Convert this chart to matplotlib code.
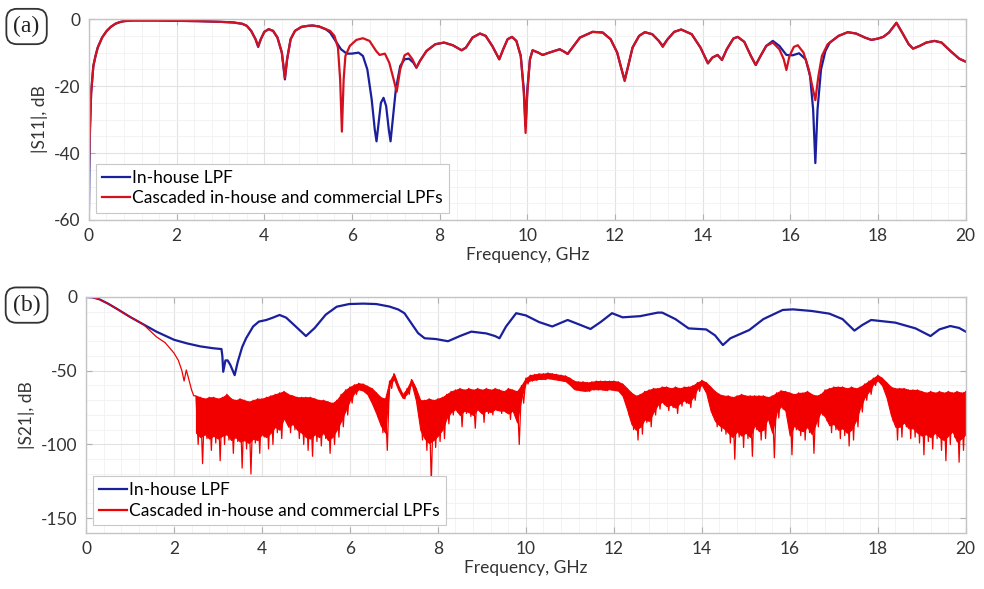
import numpy as np
import matplotlib
matplotlib.use("Agg")
from matplotlib import pyplot as plt
from matplotlib.ticker import MultipleLocator

plt.rcParams['font.family'] = ['Lato', 'DejaVu Sans']
plt.rcParams['font.size'] = 12.5
plt.rcParams['axes.unicode_minus'] = False

# |S11| of the in-house filter (GHz, dB)
s11_blue_f = [0, 0.02, 0.05, 0.1, 0.15, 0.2, 0.25, 0.3, 0.4, 0.5, 0.6, 0.7, 0.8, 1.0, 1.5, 2.0, 2.5,
              3.0, 3.3, 3.5, 3.6, 3.7, 3.8, 3.86, 3.92, 4.0, 4.1, 4.2, 4.3, 4.4, 4.47, 4.52, 4.6,
              4.7, 4.85, 5.0, 5.1, 5.25, 5.4, 5.5, 5.6, 5.75, 5.88, 6.0, 6.15, 6.25, 6.35, 6.45,
              6.52, 6.56, 6.6, 6.66, 6.72, 6.78, 6.84, 6.88, 6.93, 7.0, 7.1, 7.2, 7.3, 7.4, 7.47,
              7.55, 7.7, 7.9, 8.1, 8.3, 8.5, 8.6, 8.75, 8.92, 9.05, 9.2, 9.36, 9.45, 9.55, 9.65,
              9.75, 9.85, 9.92, 9.96, 10.0, 10.06, 10.12, 10.25, 10.35, 10.5, 10.74, 10.85, 10.92,
              11.0, 11.2, 11.49, 11.72, 11.9, 12.05, 12.15, 12.22, 12.3, 12.4, 12.55, 12.68, 12.85,
              13.0, 13.09, 13.2, 13.35, 13.51, 13.75, 13.95, 14.12, 14.22, 14.34, 14.44, 14.55,
              14.7, 14.8, 14.95, 15.1, 15.21, 15.32, 15.45, 15.6, 15.75, 15.91, 16.05, 16.2, 16.35,
              16.45, 16.52, 16.57, 16.62, 16.7, 16.8, 16.9, 17.1, 17.31, 17.5, 17.7, 17.85, 18.0,
              18.12, 18.25, 18.42, 18.55, 18.7, 18.8, 18.95, 19.1, 19.29, 19.45, 19.65, 19.85, 20.0]
s11_blue = [-57, -35, -22, -14, -11, -8.5, -7, -5.5, -3.6, -2.3, -1.4, -0.9, -0.6, -0.4, -0.4, -0.5, -0.6,
            -0.8, -1.0, -1.4, -2.0, -3.5, -6, -8.3, -6, -3.8, -3.0, -3.5, -5.5, -10, -18, -12, -6,
            -3.5, -2.3, -2.0, -1.9, -2.2, -3, -4, -6, -9, -10.3, -10.3, -10, -11, -15, -24,
            -33, -36.5, -32, -25, -23.5, -26, -33, -36.5, -30, -21, -14, -12, -11.8, -13, -14.5,
            -12.5, -9.5, -7.5, -7, -7.8, -9.3, -8.5, -5.5, -4.3, -5, -8, -12, -9, -6, -5.3,
            -6.5, -11, -21, -32, -21, -12, -9.3, -10, -10.7, -10, -9, -9.8, -10.4,
            -9, -5.5, -3.8, -4, -6, -10, -15, -18.2, -14, -8.5, -5, -3.9, -4.5,
            -6.5, -8, -6, -3.8, -3.1, -4.5, -8.5, -13.2, -11.5, -10.7, -12.2, -9,
            -5.8, -5.3, -6.8, -11, -13.7, -11, -8, -6.5, -8, -10.7, -10.8, -10.2, -12,
            -17, -27, -43, -27, -15, -9.5, -7, -5, -3.9, -4.3, -5.5, -6.2, -5.8,
            -5.3, -4, -1.1, -4, -7.5, -8.8, -8, -7, -6.5, -7, -9.5, -11.8, -12.7]

# |S11| of the cascaded filters (GHz, dB)
s11_red_f = [0, 0.02, 0.05, 0.1, 0.15, 0.2, 0.25, 0.3, 0.4, 0.5, 0.6, 0.7, 0.8, 1.0, 1.5, 2.0, 2.5,
             3.0, 3.3, 3.5, 3.6, 3.7, 3.8, 3.86, 3.92, 4.0, 4.1, 4.2, 4.3, 4.4, 4.47, 4.52, 4.6,
             4.7, 4.85, 5.0, 5.1, 5.25, 5.4, 5.5, 5.6, 5.68, 5.73, 5.77, 5.81, 5.85, 5.95, 6.1,
             6.25, 6.4, 6.55, 6.63, 6.75, 6.85, 6.95, 7.02, 7.1, 7.2, 7.28, 7.38, 7.47,
             7.55, 7.7, 7.9, 8.1, 8.3, 8.5, 8.6, 8.75, 8.92, 9.05, 9.2, 9.36, 9.45, 9.55, 9.65,
             9.75, 9.85, 9.92, 9.96, 10.0, 10.06, 10.12, 10.25, 10.35, 10.5, 10.74, 10.85, 10.92,
             11.0, 11.2, 11.49, 11.72, 11.9, 12.05, 12.15, 12.22, 12.3, 12.4, 12.55, 12.68, 12.85,
             13.0, 13.09, 13.2, 13.35, 13.51, 13.75, 13.95, 14.12, 14.22, 14.34, 14.44, 14.55,
             14.7, 14.8, 14.95, 15.1, 15.21, 15.32, 15.45, 15.6, 15.75, 15.85, 15.91, 15.98, 16.08,
             16.17, 16.3, 16.42, 16.5, 16.57, 16.64, 16.72, 16.85, 17.1, 17.31, 17.5, 17.7, 17.85,
             18.0, 18.12, 18.25, 18.42, 18.55, 18.7, 18.8, 18.95, 19.1, 19.29, 19.45, 19.65, 19.85, 20.0]
s11_red = [-45, -33, -22, -14, -11, -8.5, -7, -5.5, -3.6, -2.3, -1.4, -0.9, -0.6, -0.4, -0.4, -0.5, -0.6,
           -0.8, -1.0, -1.4, -2.0, -3.5, -6, -8.0, -6, -3.8, -3.0, -3.5, -5.5, -10, -17.5, -12, -6,
           -3.5, -2.3, -2.0, -1.9, -2.2, -3, -3.5, -5, -8.5, -18, -33.6, -18, -11, -8, -6.2,
           -5.7, -6.5, -9.5, -10.7, -10.3, -13, -18, -21.7, -15, -10.8, -10.2, -12, -14.5,
           -12.5, -9.5, -7.5, -7, -7.8, -9.3, -8.5, -5.5, -4.3, -5, -8, -12, -9, -6, -5.3,
           -6.5, -11, -22, -34, -22, -12, -9.3, -10, -10.7, -10, -9, -9.8, -10.4,
           -9, -5.5, -3.8, -4, -6, -10, -15, -18.5, -14, -8.5, -5, -3.9, -4.5,
           -6.5, -8.3, -6, -3.8, -3.1, -4.5, -8.5, -13.2, -11.5, -10.7, -12.2, -9,
           -5.8, -5.3, -6.8, -11, -13.7, -11, -8, -7, -9, -12, -15.2, -11, -8.3,
           -7.8, -10, -15, -20, -24.2, -17, -11, -7.5, -5, -3.9, -4.3, -5.5, -6.2,
           -5.8, -5.3, -4, -1.1, -4, -7.5, -8.8, -8, -7, -6.5, -7, -9.5, -11.8, -12.7]

# |S21| of the in-house filter (GHz, dB)
s21_blue_f = [0, 0.15, 0.3, 0.5, 0.7, 1.0, 1.3, 1.6, 2.0, 2.3, 2.6, 2.9, 3.08, 3.1, 3.12, 3.17, 3.22,
              3.28, 3.38, 3.45, 3.55, 3.64, 3.8, 3.93, 4.1, 4.25, 4.4, 4.55, 4.75, 5.0, 5.2, 5.45,
              5.7, 5.98, 6.3, 6.6, 6.9, 7.1, 7.24, 7.4, 7.55, 7.7, 7.95, 8.23, 8.5, 8.76, 9.1, 9.3,
              9.4, 9.55, 9.78, 10.0, 10.3, 10.6, 10.95, 11.2, 11.47, 11.7, 11.96, 12.2, 12.6, 13.0,
              13.1, 13.4, 13.7, 14.1, 14.3, 14.48, 14.65, 15.08, 15.4, 15.84, 16.07, 16.5, 16.9,
              17.2, 17.47, 17.65, 17.85, 18.4, 18.86, 19.2, 19.4, 19.65, 19.85, 20.0]
s21_blue = [0, -0.3, -1.5, -4.5, -8, -13.5, -18.5, -23.5, -29, -31.5, -33.5, -34.8, -35.3, -40, -50.7, -43, -43,
            -46, -53, -44, -34, -28, -20, -16.7, -15.6, -14, -12.2, -14, -19.5, -26.5, -21, -12,
            -6.6, -4.8, -4.5, -4.8, -6.5, -8.5, -11, -18, -24.5, -28, -28.5, -30, -26.5, -23.5, -24.7, -26.5,
            -28, -20, -11, -12.5, -17, -20, -15.6, -18.5, -21.7, -17, -11, -13.8, -13, -10.6,
            -10.6, -15, -21.3, -22, -26, -32.6, -28, -22.4, -15, -8.8, -8.4, -9.5, -11.3,
            -15, -22.8, -19, -15.6, -17.4, -21.3, -26.5, -22, -19.7, -21, -23.5]

# |S21| of the cascaded filters: roll-off part (GHz, dB)
s21_red_f = [0, 0.15, 0.3, 0.5, 0.7, 1.0, 1.3, 1.6, 1.8, 2.0, 2.1, 2.18, 2.23, 2.28, 2.33, 2.4, 2.45]
s21_red = [0, -0.3, -1.5, -4.5, -8, -13.5, -18.5, -27, -31, -38, -43, -50, -57, -49.5, -55, -63, -67]

# stopband of the cascaded filters, sampled every 0.1 GHz from 2.5 to 20 GHz (dB):
# top of the noise floor, bottom of its solid part, and the tips of the deep spikes
band_f = np.arange(25, 201) / 10
band_hi = [-67, -68, -69, -68, -68,
           -69, -68, -66, -69, -70, -69, -70, -71, -70, -69,
           -69, -68, -67, -66, -65, -64, -66, -67, -68, -68,
           -68, -68, -69, -70, -70, -71, -72, -70, -66, -63,
           -61, -59.5, -58.5, -59, -60.5, -62, -65, -68, -69, -57,
           -52, -60, -66, -62, -56, -62, -70, -70, -69, -70,
           -69, -68, -66, -64, -63, -62, -63, -62, -63, -62,
           -63, -62, -63, -62, -63, -64, -62, -63, -64, -60,
           -55, -53, -52.5, -52, -52, -51.5, -52, -52.5, -53, -53.5,
           -55, -57, -57.5, -57.5, -58, -57.5, -57, -57, -57, -57,
           -57, -57.5, -59, -62, -65, -67, -66, -64, -63, -62,
           -62, -61, -61, -62, -61, -62, -61, -61, -60, -58,
           -56.5, -58, -61, -64, -66, -67, -67, -68, -67, -66,
           -67, -67, -67, -67, -67, -68, -67, -65, -63.5, -64,
           -65, -66, -65, -65, -64, -66, -67, -66, -63, -62,
           -61, -61, -61, -62, -61, -62, -61, -59, -57, -55,
           -53, -55, -58, -61, -62, -62, -62, -63, -63, -63,
           -64, -65, -64, -65, -64, -65, -64, -65, -64, -65,
           -64]
band_body = [-92, -95, -93, -96, -94,
             -96, -94, -93, -97, -95, -98, -97, -99, -96, -97,
             -93, -95, -92, -88, -90, -82, -88, -86, -90, -92,
             -95, -96, -93, -95, -92, -97, -95, -90, -84, -77,
             -70, -65, -62.5, -63.5, -66, -72, -79, -87, -92, -60,
             -55.5, -63, -68.5, -65.5, -58.5, -70, -90, -96, -99, -97,
             -94, -90, -82, -78, -76, -80, -77, -78, -80, -76,
             -79, -77, -78, -76, -77, -77, -79, -77, -85, -68,
             -58, -56.5, -56, -55.5, -55.5, -55, -55.5, -56, -56.5, -57,
             -59.5, -62.5, -63, -63.5, -63.5, -62.5, -62.5, -62.5, -63, -62.5,
             -63, -63.5, -67, -76, -86, -90, -88, -83, -84, -78,
             -73, -71, -74, -73, -75, -72, -70, -72, -68, -62,
             -59.5, -65, -77, -84, -87, -89, -92, -95, -91, -94,
             -92, -95, -87, -91, -90, -82, -92, -78, -74, -77,
             -94, -87, -90, -91, -88, -93, -85, -78, -81, -87,
             -86, -90, -89, -92, -90, -84, -75, -68, -64, -59,
             -56.5, -60, -68, -80, -88, -88, -85, -89, -89, -92,
             -94, -93, -95, -92, -95, -97, -94, -91, -98, -96,
             -93]
band_lo = [-100, -113, -96, -104, -99,
           -111, -100, -97, -106, -98, -116, -103, -120, -99, -106,
           -95, -103, -100, -92, -96, -75, -92, -90, -96, -100,
           -104, -108, -98, -101, -96, -106, -100, -95, -88, -80,
           -72, -66, -63, -64, -68, -74, -82, -92, -104, -62,
           -56, -64, -69, -66, -59, -75, -97, -104, -126, -102,
           -98, -96, -86, -80, -78, -88, -79, -81, -89, -77,
           -85, -79, -80, -77, -79, -78, -83, -78, -100, -72,
           -59, -57, -56.5, -56, -56, -55.5, -56, -56.5, -57, -57.5,
           -60, -63, -63.5, -64, -64, -63, -63, -63, -63.5, -63,
           -63, -64, -68, -80, -90, -97, -93, -85, -88, -80,
           -76, -73, -77, -75, -79, -74, -72, -75, -70, -64,
           -60, -66, -80, -88, -91, -93, -99, -110, -95, -102,
           -96, -108, -90, -97, -96, -85, -109, -82, -76, -80,
           -107, -90, -94, -97, -92, -106, -88, -80, -84, -92,
           -90, -96, -94, -101, -97, -88, -78, -70, -66, -60,
           -57, -61, -70, -84, -97, -95, -88, -96, -95, -99,
           -107, -98, -103, -96, -104, -111, -100, -95, -112, -104,
           -96]

blue = '#1a1f9c'
red11 = '#d4111f'
red21 = '#f20000'
legend_labels = ['In-house LPF', 'Cascaded in-house and commercial LPFs']

# zig-zag between top and spike tips, drawn over the solid band
zig_f = np.column_stack([band_f, band_f + 0.05]).ravel()
zig_db = np.column_stack([band_hi, band_lo]).ravel()
s21_red_all_f = np.concatenate([s21_red_f, zig_f])
s21_red_all = np.concatenate([s21_red, zig_db])

fig = plt.figure(figsize=(9.84, 5.89), dpi=100)
ax1 = fig.add_axes([0.0904, 0.6265, 0.891, 0.341])
ax2 = fig.add_axes([0.0874, 0.0951, 0.894, 0.4007])


def style_axes(ax, ylim, ymajor, yminor):
    ax.set_xlim(0, 20)
    ax.set_ylim(*ylim)
    ax.xaxis.set_major_locator(MultipleLocator(2))
    ax.xaxis.set_minor_locator(MultipleLocator(0.4))
    ax.yaxis.set_major_locator(MultipleLocator(ymajor))
    ax.yaxis.set_minor_locator(MultipleLocator(yminor))
    ax.grid(which='major', color='#e2e2e2', linewidth=0.8)
    ax.grid(which='minor', color='#f1f1f1', linewidth=0.6)
    ax.set_axisbelow(True)
    for sp in ax.spines.values():
        sp.set_color('#c4c4c4')
        sp.set_linewidth(1.0)
    ax.tick_params(which='major', direction='in', length=4, color='#b0b0b0',
                   labelcolor='#333333', top=True, right=True, pad=6)
    ax.tick_params(which='minor', length=0)
    ax.set_xlabel('Frequency, GHz', color='#333333', labelpad=2)


ax1.plot(s11_blue_f, s11_blue, color=blue, lw=1.6, label=legend_labels[0])
ax1.plot(s11_red_f, s11_red, color=red11, lw=1.6, label=legend_labels[1])
style_axes(ax1, (-60, 0), 20, 5)
ax1.set_ylabel('|S11|, dB', color='#333333', labelpad=4)

ax2.plot(s21_blue_f, s21_blue, color=blue, lw=1.6, label=legend_labels[0])
ax2.fill_between(band_f, band_hi, band_body, color=red21, lw=0.8, ec=red21)
ax2.plot(s21_red_all_f, s21_red_all, color=red21, lw=0.9, label=legend_labels[1])
style_axes(ax2, (-160, 0), 50, 10)
ax2.set_ylabel('|S21|, dB', color='#333333', labelpad=4)

for ax in (ax1, ax2):
    leg = ax.legend(loc='lower left', bbox_to_anchor=(0.004, 0.02), fancybox=False,
                    edgecolor='#c8c8c8', framealpha=1, handlelength=1.6, handletextpad=0.15,
                    borderpad=0.35, labelspacing=0.25, borderaxespad=0.2)
    leg.get_frame().set_linewidth(0.8)
    for line in leg.get_lines():
        line.set_linewidth(1.6)

# panel tags
for y, tag in ((0.955, '(a)'), (0.482, '(b)')):
    fig.text(0.027, y, tag, family='Liberation Serif', fontsize=17, color='#222222',
             ha='center', va='center',
             bbox=dict(boxstyle='round,pad=0.3,rounding_size=0.45', fc='white',
                       ec='#333333', lw=1.3))

fig.savefig('out.png', dpi=100)
